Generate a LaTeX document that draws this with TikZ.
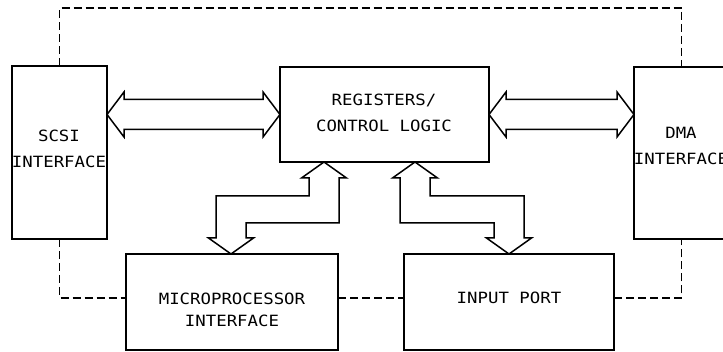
\documentclass[tikz,border=0pt]{standalone}
\usepackage{fontspec}
\usetikzlibrary{calc}
\newfontfamily\plotfont{DejaVu Sans Mono}[FakeStretch=1.12]
\begin{document}
\begin{tikzpicture}[x=1pt,y=-1pt,
  box/.style={draw, line width=1.6pt, inner sep=0pt, outer sep=0pt},
  txt/.style={inner sep=0pt, outer sep=0pt, anchor=north, align=center,
    font=\plotfont\fontsize{15.5}{26}\selectfont},
  dashline/.style={line width=1.4pt, dash pattern=on 8pt off 4pt},
  bus/.style={line width=1.5pt, line join=miter}]
\useasboundingbox (0,0) rectangle (723,352);
\fill[white] (0,0) rectangle (723,352);
\clip (0,0) rectangle (723,352);

% boxes
\node[box, minimum width=95pt, minimum height=173pt] (scsi) at (59.5,152.5) {};
\node[box, minimum width=209pt, minimum height=95pt] (regs) at (384.5,114.5) {};
\node[box, minimum width=95pt, minimum height=172pt] (dma) at (681.5,153) {};
\node[box, minimum width=212pt, minimum height=96pt] (micro) at (232,302) {};
\node[box, minimum width=210pt, minimum height=96pt] (inport) at (509,302) {};

% texts
\node[txt] (scsit) at (59,129.5) {SCSI\\INTERFACE};
\node[txt] (regst) at (384,94.5) {REGISTERS/\\CONTROL LOGIC};
\node[txt] (dmat) at (681,127.5) {DMA\\INTERFACE};
\node[txt, font=\plotfont\fontsize{15.5}{22}\selectfont] (microt) at (232,292.5) {MICROPROCESSOR\\INTERFACE};
\node[txt] (inportt) at (509,291.5) {INPUT PORT};

% dashed loop
\coordinate (dtop) at (0,8);
\draw[dashline] (scsi.north) -- (scsi.north |- dtop) -- (dma.north |- dtop) -- (dma.north);
\draw[dashline] (scsi.south) |- ([yshift=4pt]micro.west);
\draw[dashline] ([yshift=4pt]micro.east) -- ([yshift=4pt]inport.west);
\draw[dashline] ([yshift=4pt]inport.east) -| (dma.south);

% horizontal buses
\coordinate (h1) at (scsi.east |- regs.west);
\draw[bus] (h1) -- ++(17,-22.5) -- ++(0,7.5) -- ($(regs.west)+(-17,-15)$) -- ++(0,-7.5)
  -- (regs.west) -- ++(-17,22.5) -- ++(0,-7.5) -- ($(h1)+(17,15)$) -- ++(0,7.5) -- cycle;
\coordinate (h2) at (dma.west |- regs.east);
\draw[bus] (regs.east) -- ++(17,-22.5) -- ++(0,7.5) -- ($(h2)+(-17,-15)$) -- ++(0,-7.5)
  -- (h2) -- ++(-17,22.5) -- ++(0,-7.5) -- ($(regs.east)+(17,15)$) -- ++(0,7.5) -- cycle;

% bent bus: registers <-> microprocessor
\coordinate (a1) at ($(regs.south west)+(44,0)$);
\coordinate (a2) at ($(micro.north west)+(105,0)$);
\draw[bus] (a1) -- ($(a1)+(22.5,16)$) -- ($(a1)+(15,16)$) -- ($(a1)+(15,61)$)
  -- ($(a2)+(15,-31)$) -- ($(a2)+(15,-16)$) -- ($(a2)+(22.5,-16)$) -- (a2)
  -- ($(a2)+(-22.5,-16)$) -- ($(a2)+(-15,-16)$) -- ($(a2)+(-15,-58)$)
  -- ($(a1)+(-15,34)$) -- ($(a1)+(-15,16)$) -- ($(a1)+(-22.5,16)$) -- cycle;

% bent bus: registers <-> input port
\coordinate (b1) at ($(regs.south west)+(135,0)$);
\coordinate (b2) at ($(inport.north west)+(105,0)$);
\draw[bus] (b1) -- ($(b1)+(22.5,16)$) -- ($(b1)+(15,16)$) -- ($(b1)+(15,34)$)
  -- ($(b2)+(15,-58)$) -- ($(b2)+(15,-16)$) -- ($(b2)+(22.5,-16)$) -- (b2)
  -- ($(b2)+(-22.5,-16)$) -- ($(b2)+(-15,-16)$) -- ($(b2)+(-15,-31)$)
  -- ($(b1)+(-15,61)$) -- ($(b1)+(-15,16)$) -- ($(b1)+(-22.5,16)$) -- cycle;
\end{tikzpicture}
\end{document}
